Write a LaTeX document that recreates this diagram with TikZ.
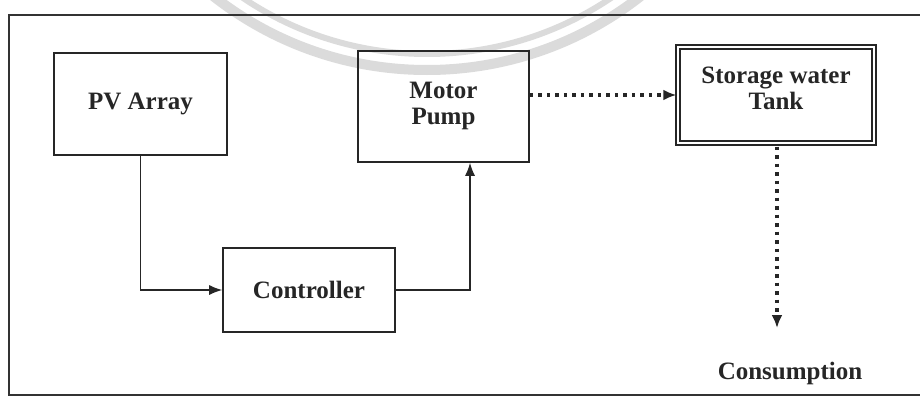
\documentclass[tikz,border=0pt]{standalone}
\usepackage{fontspec}
\setmainfont{Liberation Serif}
\usetikzlibrary{arrows.meta,calc}
\begin{document}
\begin{tikzpicture}[x=1pt,y=1pt,
  box/.style={draw=black!85, line width=1.6pt, rectangle, inner sep=0pt, align=center,
    font=\fontsize{25}{26}\selectfont\bfseries, text=black!85},
  lbl/.style={inner sep=0pt, align=center, font=\fontsize{25}{26}\selectfont\bfseries, text=black!85},
  solidarrow/.style={draw=black!85, line width=1.3pt, -{Latex[length=13pt,width=10pt]}},
  dotarrow/.style={draw=black!85, line width=3.5pt, dash pattern=on 3.5pt off 5pt, -{Latex[length=13pt,width=11pt]}},
  wmark/.style={draw=black!14}
]
\useasboundingbox (0,0) rectangle (920,-396);
\fill[white] (0,0) rectangle (920,-396);
% faint watermark arcs
\begin{scope}
\clip (0,0) rectangle (920,-396);
\draw[wmark, line width=6pt] (427,276) circle[radius=330];
\draw[wmark, line width=10pt] (427,276) circle[radius=346];
\end{scope}
% outer frame
\begin{scope}
\clip (0,0) rectangle (920,-396);
\draw[black!80, line width=1.6pt] (9,-15) rectangle (940,-395);
\end{scope}
% boxes
\node[box, minimum width=173pt, minimum height=102pt] (pv) at (140.5,-104) {PV Array};
\node[box, minimum width=171pt, minimum height=111pt, text depth=6pt] (motor) at (443.5,-106.5) {Motor\\Pump};
\node[box, double, double distance=2.6pt, line width=1.3pt, minimum width=196pt, minimum height=96pt, text depth=14pt] (tank) at (776,-95) {Storage water\\Tank};
\node[box, minimum width=172pt, minimum height=84pt] (ctrl) at (309,-290) {Controller};
\node[lbl, anchor=north] (cons) at (790,-362) {Consumption};
\coordinate (up) at (470,-290);
% connectors
\draw[solidarrow] (pv.south) |- (ctrl.west);
\draw[solidarrow] (ctrl.east) -| (up |- motor.south);
\draw[dotarrow] (motor.east |- tank.west) -- ([xshift=-1pt]tank.west);
\draw[dotarrow] ([yshift=-3pt]tank.south -| 777,0) -- (777,-328);
\end{tikzpicture}
\end{document}
